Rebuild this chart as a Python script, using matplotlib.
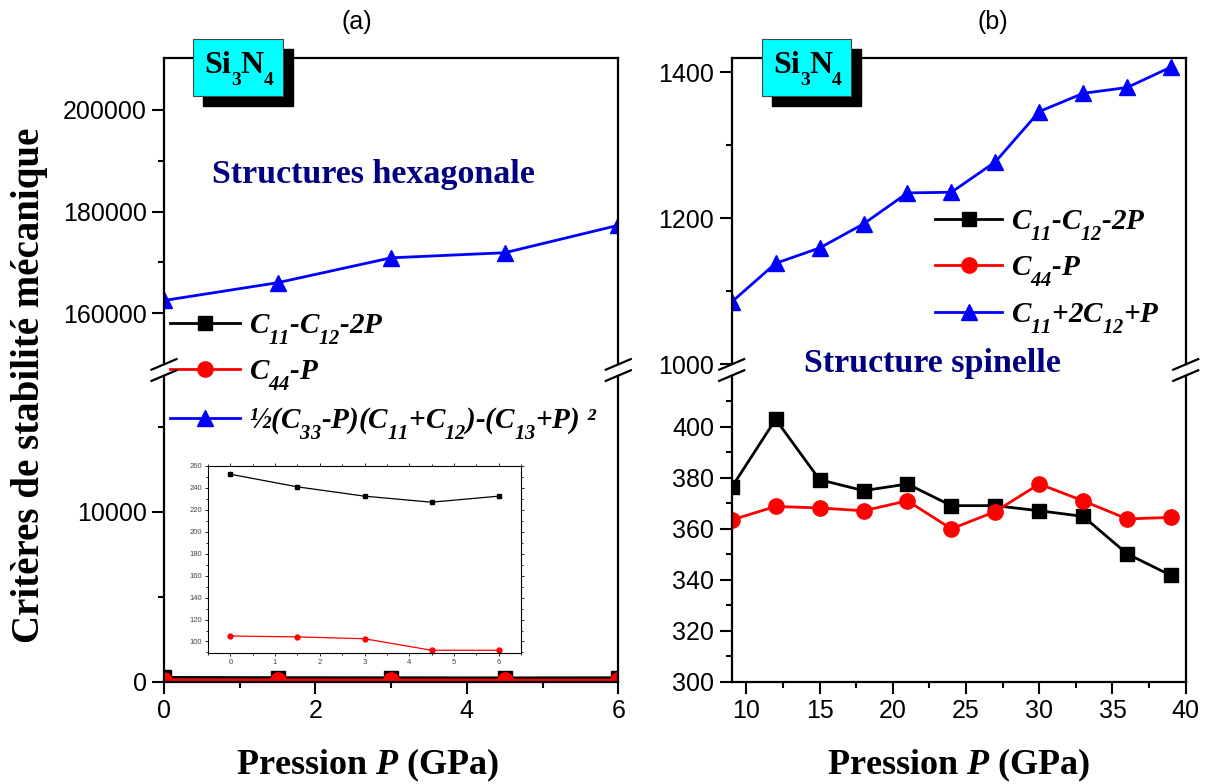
import matplotlib.pyplot as plt
from matplotlib.lines import Line2D
from matplotlib.patches import Rectangle
from matplotlib.ticker import MultipleLocator, FixedLocator

plt.rcParams['font.family'] = ['Liberation Sans', 'DejaVu Sans']
plt.rcParams['mathtext.fontset'] = 'custom'
plt.rcParams['mathtext.rm'] = 'Liberation Serif:italic:bold'
plt.rcParams['mathtext.it'] = 'Liberation Serif:italic:bold'
plt.rcParams['mathtext.bf'] = 'Liberation Serif:bold'

# deeper subscripts, like the Origin labels (private API, so guarded)
try:
    import matplotlib._mathtext as _mt

    class _DeepSub(_mt.FontConstantsBase):
        subdrop = 0.85
        sub1 = 0.85
        sub2 = 0.85

    _mt._font_constant_mapping['Liberation Serif'] = _DeepSub
except Exception:
    pass

# (a) hexagonal structure
p_hex = [0, 1.5, 3, 4.5, 6]
hex_c11_c12 = [252.5, 241, 232.5, 227, 232.5]
hex_c44 = [105, 104.2, 102.5, 92, 92]
hex_born = [162500, 166000, 170900, 171900, 177300]

# (b) spinel structure
p_sp = [9, 12, 15, 18, 21, 24, 27, 30, 33, 36, 39]
sp_c11_c12 = [376.3, 403, 379.3, 375, 377.6, 369.1, 369.1, 367.1, 364.9, 350.2, 341.7]
sp_c44 = [363.5, 368.8, 368.2, 367.1, 371, 360, 366.8, 377.6, 371, 363.9, 364.5]
sp_bulk = [1085, 1138, 1159, 1192, 1234.5, 1235.4, 1277, 1346, 1371, 1379, 1407]

labels_a = [r'$C_{11}$-$C_{12}$-2P', r'$C_{44}$-P',
            r'½($C_{33}$-P)($C_{11}$+$C_{12}$)-($C_{13}$+P) ²']
labels_b = [r'$C_{11}$-$C_{12}$-2P', r'$C_{44}$-P', r'$C_{11}$+2$C_{12}$+P']

W, H = 1214, 784
fig = plt.figure(figsize=(W / 100, H / 100), dpi=100)


def px(x0, y0, x1, y1):
    # pixel box (top-left origin) -> figure fraction rect
    return [x0 / W, 1 - y1 / H, (x1 - x0) / W, (y1 - y0) / H]


def style(ax, part):
    for s in ax.spines.values():
        s.set_linewidth(1.6)
    if part == 'top':
        ax.spines['bottom'].set_visible(False)
        ax.tick_params(axis='x', which='both', bottom=False, labelbottom=False)
    else:
        ax.spines['top'].set_visible(False)
    ax.tick_params(which='major', direction='out', length=8.5, width=1.5,
                   labelsize=18, pad=4)
    ax.tick_params(which='minor', direction='out', length=4.3, width=1.5)
    ax.tick_params(axis='y', which='both', right=False)
    ax.tick_params(axis='x', which='both', top=False)
    ax.ticklabel_format(axis='y', style='plain', useOffset=False)


def brk(x, y=370):
    for dy in (-5.6, 5.6):
        fig.add_artist(Line2D([(x - 12.5) / W, (x + 12.5) / W],
                              [1 - (y + dy + 5.3) / H, 1 - (y + dy - 5.3) / H],
                              color='k', lw=1.6, transform=fig.transFigure, zorder=6))


def tag(x0, y0):
    fig.add_artist(Rectangle(((x0 + 10) / W, 1 - (y0 + 67) / H), 89.5 / W, 57 / H,
                             transform=fig.transFigure, facecolor='k', edgecolor='k', zorder=4))
    fig.add_artist(Rectangle((x0 / W, 1 - (y0 + 57) / H), 89.5 / W, 57 / H,
                             transform=fig.transFigure, facecolor='#00FFFF',
                             edgecolor='#444444', lw=0.8, zorder=5))
    # Si_3 N_4 with deep subscripts, built piece by piece
    parts = [('Si', 11.5, 34, 23), ('3', 38, 45.7, 14), ('N', 47.5, 34, 23), ('4', 70.5, 45.7, 14)]
    for s, dx, dy, fs in parts:
        fig.text((x0 + dx) / W, 1 - (y0 + dy) / H, s, ha='left', va='baseline',
                 fontsize=fs, family='Liberation Serif', weight='bold', zorder=6)


kw_sq = dict(color='k', marker='s', ms=9.5, lw=2)
kw_ci = dict(color='#FF0000', marker='o', ms=11, lw=2)
kw_tr = dict(color='#0000FF', marker='^', ms=12, lw=2)
serif_b = dict(family='Liberation Serif', weight='bold')
leg_prop = dict(family='Liberation Serif', weight='bold', style='italic', size=21)

# ---------- panel (a) ----------
axa_top = fig.add_axes(px(164, 58.3, 618.3, 364))
axa_bot = fig.add_axes(px(164, 376, 618.3, 681.7))
la3, = axa_top.plot(p_hex, hex_born, **kw_tr)
la1, = axa_bot.plot(p_hex, hex_c11_c12, **kw_sq)
la2, = axa_bot.plot(p_hex, hex_c44, **kw_ci)
for ax in (axa_top, axa_bot):
    ax.set_xlim(0, 6)
    ax.xaxis.set_major_locator(MultipleLocator(2))
    ax.xaxis.set_minor_locator(MultipleLocator(1))
axa_top.set_ylim(150000, 210170)
axa_top.set_yticks([160000, 180000, 200000])
axa_top.yaxis.set_minor_locator(FixedLocator([170000, 190000]))
axa_bot.set_ylim(0, 18000)
axa_bot.set_yticks([0, 10000])
axa_bot.yaxis.set_minor_locator(FixedLocator([5000, 15000]))
style(axa_top, 'top')
style(axa_bot, 'bot')

# inset
axi = fig.add_axes(px(208, 466, 521, 653))
axi.plot(p_hex, hex_c11_c12, color='k', marker='s', ms=3.5, lw=0.9)
axi.plot(p_hex, hex_c44, color='#FF0000', marker='o', ms=3.5, lw=0.9)
axi.set_xlim(-0.5, 6.5)
axi.set_ylim(89.5, 260)
axi.xaxis.set_major_locator(MultipleLocator(1))
axi.xaxis.set_minor_locator(MultipleLocator(0.5))
axi.yaxis.set_major_locator(MultipleLocator(20))
axi.yaxis.set_minor_locator(MultipleLocator(10))
for s in axi.spines.values():
    s.set_linewidth(0.8)
axi.tick_params(which='both', labelsize=5.5, labelcolor='#444444', top=True,
                right=True, width=0.6, pad=2)
axi.tick_params(which='major', length=2.5)
axi.tick_params(which='minor', length=1.5)

fig.legend([la1, la2, la3], labels_a, loc='upper left',
           bbox_to_anchor=(170 / W, 1 - 312 / H), frameon=False, prop=leg_prop,
           handlelength=2.4, handletextpad=0.3, labelspacing=0.40,
           borderpad=0, borderaxespad=0)

# ---------- panel (b) ----------
axb_top = fig.add_axes(px(731.7, 58.3, 1185.7, 364))
axb_bot = fig.add_axes(px(731.7, 376, 1185.7, 681.7))
lb3, = axb_top.plot(p_sp, sp_bulk, **kw_tr)
lb1, = axb_bot.plot(p_sp, sp_c11_c12, **kw_sq)
lb2, = axb_bot.plot(p_sp, sp_c44, **kw_ci)
for ax in (axb_top, axb_bot):
    ax.set_xlim(9, 40)
    ax.xaxis.set_major_locator(MultipleLocator(5))
    ax.xaxis.set_minor_locator(MultipleLocator(2.5))
axb_top.set_ylim(1000, 1419)
axb_top.set_yticks([1000, 1200, 1400])
axb_top.yaxis.set_minor_locator(FixedLocator([1100, 1300]))
axb_bot.set_ylim(300, 420)
axb_bot.set_yticks([300, 320, 340, 360, 380, 400])
axb_bot.yaxis.set_minor_locator(FixedLocator([310, 330, 350, 370, 390, 410]))
style(axb_top, 'top')
style(axb_bot, 'bot')

fig.legend([lb1, lb2, lb3], labels_b, loc='upper left',
           bbox_to_anchor=(935 / W, 1 - 208 / H), frameon=False, prop=leg_prop,
           handlelength=2.3, handletextpad=0.3, labelspacing=0.40,
           borderpad=0, borderaxespad=0)

# breaks, tags, texts
for x in (164, 618.3, 731.7, 1185.7):
    brk(x)
tag(193, 39.3)
tag(761.7, 39.3)

fig.text(357 / W, 1 - 22 / H, '(a)', ha='center', va='center', fontsize=18)
fig.text(993 / W, 1 - 22 / H, '(b)', ha='center', va='center', fontsize=18)
fig.text(373 / W, 1 - 183 / H, 'Structures hexagonale', color='#000080',
         fontsize=24.5, ha='center', va='baseline', **serif_b)
fig.text(932 / W, 1 - 371.7 / H, 'Structure spinelle', color='#000080',
         fontsize=24.5, ha='center', va='baseline', **serif_b)
fig.text(368 / W, 1 - 765 / H, r'Pression $P$ (GPa)', ha='center', va='center',
         fontsize=26, **serif_b)
fig.text(959 / W, 1 - 765 / H, r'Pression $P$ (GPa)', ha='center', va='center',
         fontsize=26, **serif_b)
fig.text(30 / W, 1 - 385 / H, 'Critères de stabilité mécanique', rotation=90,
         ha='center', va='center', fontsize=28, **serif_b)

fig.savefig('out.png', dpi=100)
